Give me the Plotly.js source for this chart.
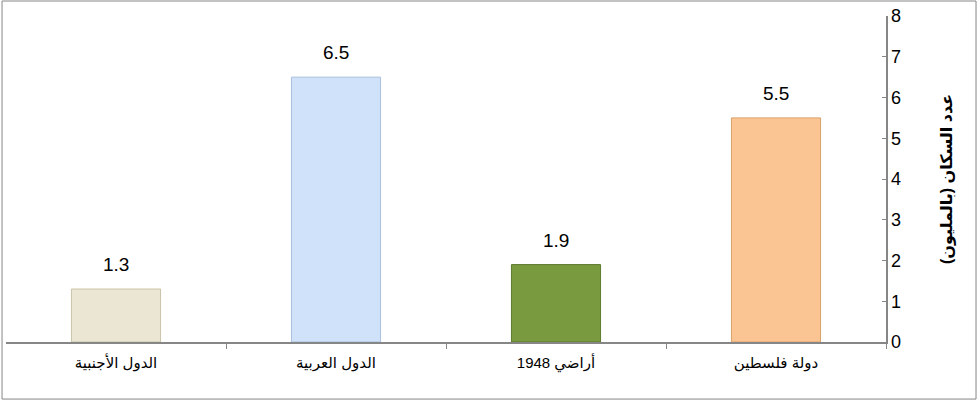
<!DOCTYPE html>
<html>
<head>
<meta charset="utf-8">
<script src="https://cdn.plot.ly/plotly-3.0.1.min.js"></script>
<style>html,body{margin:0;padding:0;background:#fff;} #chart{width:980px;height:404px;}</style>
</head>
<body>
<div id="chart"></div>
<script>
const categories = ['دولة فلسطين', 'أراضي 1948', 'الدول العربية', 'الدول الأجنبية'];
const values = [5.5, 1.9, 6.5, 1.3];
const barColors = ['#FAC593', '#7A9A40', '#CFE2FA', '#EAE6D3'];
const barEdges = ['#D9A06A', '#5E7A2C', '#A9BFDC', '#C9C3A8'];
const yTitle = 'عدد السكان (بالمليون)';

const fontFam = 'Liberation Sans, Arial, DejaVu Sans, sans-serif';

const trace = {
  type: 'bar',
  x: categories,
  y: values,
  marker: {color: barColors, line: {color: barEdges, width: 1}},
  hoverinfo: 'skip'
};

const annotations = categories.map((c, i) => ({
  x: c, y: values[i], xref: 'x', yref: 'y',
  text: values[i].toFixed(1), showarrow: false,
  yanchor: 'bottom', yshift: 12,
  font: {family: fontFam, size: 19, color: '#000'}
}));

const layout = {
  width: 980, height: 404,
  margin: {l: 6, r: 94, t: 16, b: 62},
  paper_bgcolor: '#fff', plot_bgcolor: '#fff',
  bargap: 0.595,
  showlegend: false,
  font: {family: fontFam, color: '#000'},
  xaxis: {
    type: 'category', autorange: 'reversed',
    showline: true, linecolor: '#868686', linewidth: 1.5,
    ticks: 'outside', tickson: 'boundaries', ticklen: 5, tickcolor: '#868686', tickwidth: 1,
    tickangle: 0, automargin: false, ticklabelstandoff: 6,
    tickfont: {family: fontFam, size: 15, color: '#000'},
    showgrid: false, zeroline: false, fixedrange: true
  },
  yaxis: {
    side: 'right', range: [0, 8], dtick: 1, tick0: 0,
    showline: true, linecolor: '#868686', linewidth: 1.5,
    ticks: 'inside', ticklen: 4, tickcolor: '#868686', automargin: false,
    tickfont: {family: fontFam, size: 18, color: '#000'},
    showgrid: false, zeroline: false, fixedrange: true,
    title: {text: yTitle, standoff: 40, font: {family: fontFam, size: 16, color: '#000', weight: 'bold'}}
  },
  annotations: annotations,
  shapes: [{
    type: 'rect', xref: 'paper', yref: 'paper',
    x0: -0.0045, x1: 1.1023, y0: -0.175, y1: 1.046,
    line: {color: '#868686', width: 1}, fillcolor: 'rgba(0,0,0,0)', layer: 'below'
  }]
};

Plotly.newPlot('chart', [trace], layout, {displayModeBar: false, staticPlot: true});
</script>
</body>
</html>
